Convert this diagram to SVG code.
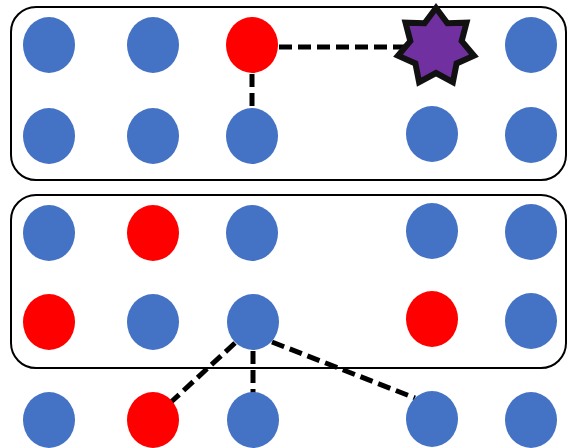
<svg xmlns="http://www.w3.org/2000/svg" width="568" height="448" viewBox="0 0 568 448">
<style>
.box{fill:none;stroke:#000;stroke-width:2}
.b{fill:#4472C4}
.r{fill:#FF0000}
.edge{stroke:#000;stroke-width:5;stroke-dasharray:13 6;fill:none}
.star{fill:#7030A0;stroke:#111;stroke-width:6;stroke-linejoin:miter}
</style>
<rect width="568" height="448" fill="#fff"/>
<g id="groups">
<rect id="group-top" class="box" x="11" y="7" width="555" height="173" rx="25" ry="25"/>
<rect id="group-bottom" class="box" x="11" y="195" width="555" height="173" rx="25" ry="25"/>
</g>
<g id="connectors">
<line class="edge" x1="279" y1="47" x2="404" y2="47"/>
<line class="edge" x1="252" y1="74" x2="252" y2="108"/>
<line class="edge" x1="235" y1="343" x2="170" y2="403"/>
<line class="edge" x1="253" y1="351" x2="253" y2="393"/>
<line class="edge" x1="272" y1="342" x2="415" y2="398"/>
</g>
<g id="n1"><ellipse class="b" cx="49" cy="45" rx="26" ry="28"/></g>
<g id="n2"><ellipse class="b" cx="153" cy="45" rx="26" ry="28"/></g>
<g id="n3"><ellipse class="r" cx="252" cy="45" rx="26" ry="28"/></g>
<g id="n4"><polygon class="star" points="436,8 447.4,23.3 466.5,22.7 461.7,41.1 474,55.7 456.6,63.4 452.9,82.1 436,73 419.1,82.1 415.4,63.4 398,55.7 410.3,41.1 405.5,22.7 424.6,23.3"/></g>
<g id="n5"><ellipse class="b" cx="531" cy="45" rx="26" ry="28"/></g>
<g id="n6"><ellipse class="b" cx="49" cy="136" rx="26" ry="28"/></g>
<g id="n7"><ellipse class="b" cx="153" cy="136" rx="26" ry="28"/></g>
<g id="n8"><ellipse class="b" cx="252" cy="136" rx="26" ry="28"/></g>
<g id="n9"><ellipse class="b" cx="432" cy="134" rx="26" ry="28"/></g>
<g id="n10"><ellipse class="b" cx="531" cy="135" rx="26" ry="28"/></g>
<g id="n11"><ellipse class="b" cx="49" cy="233" rx="26" ry="28"/></g>
<g id="n12"><ellipse class="r" cx="153" cy="233" rx="26" ry="28"/></g>
<g id="n13"><ellipse class="b" cx="252" cy="233" rx="26" ry="28"/></g>
<g id="n14"><ellipse class="b" cx="432" cy="231" rx="26" ry="28"/></g>
<g id="n15"><ellipse class="b" cx="531" cy="232" rx="26" ry="28"/></g>
<g id="n16"><ellipse class="r" cx="49" cy="322" rx="26" ry="28"/></g>
<g id="n17"><ellipse class="b" cx="153" cy="322" rx="26" ry="28"/></g>
<g id="n18"><ellipse class="b" cx="253" cy="322" rx="26" ry="28"/></g>
<g id="n19"><ellipse class="r" cx="432" cy="319" rx="26" ry="28"/></g>
<g id="n20"><ellipse class="b" cx="531" cy="321" rx="26" ry="28"/></g>
<g id="n21"><ellipse class="b" cx="49" cy="420" rx="26" ry="28"/></g>
<g id="n22"><ellipse class="r" cx="153" cy="420" rx="26" ry="28"/></g>
<g id="n23"><ellipse class="b" cx="253" cy="420" rx="26" ry="28"/></g>
<g id="n24"><ellipse class="b" cx="432" cy="419" rx="26" ry="28"/></g>
<g id="n25"><ellipse class="b" cx="531" cy="420" rx="26" ry="28"/></g>
</svg>
